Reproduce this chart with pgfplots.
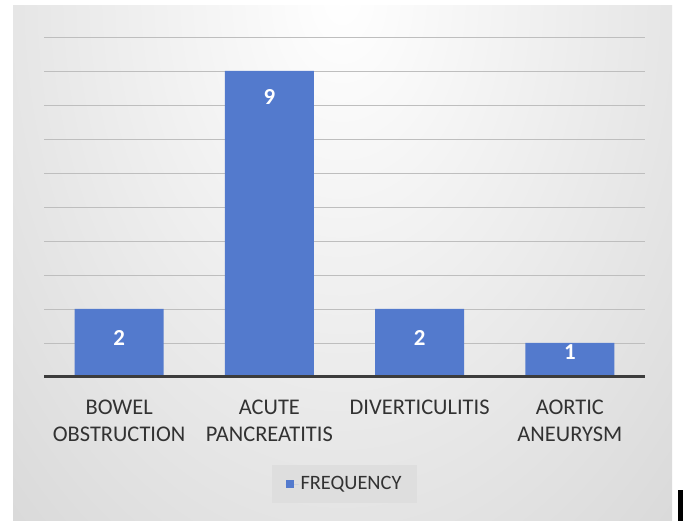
\documentclass[border=0pt]{standalone}
\usepackage{pgfplots}
\pgfplotsset{compat=1.18}
\usepackage{pgfplotstable}
\usepackage{fontspec}
\setmainfont{Carlito}
\definecolor{barblue}{RGB}{83,122,205}
\definecolor{txtgray}{RGB}{50,50,50}
\definecolor{axgray}{RGB}{60,60,60}
\definecolor{gridgray}{RGB}{190,190,190}
\definecolor{bgouter}{RGB}{198,198,198}
\definecolor{leggray}{RGB}{222,222,222}
\pgfplotstableread{
x y
0 2
1 9
2 2
3 1
}\freq
\pgfplotstableread{
x pos lab
0 1.15 2
1 8.24 9
2 1.15 2
3 0.74 1
}\labs
\begin{document}
\begin{tikzpicture}[x=1bp,y=1bp]
\fill[white] (0,0) rectangle (683,521);
\begin{scope}
\clip (13,0) rectangle (672,515);
\shade[inner color=white, outer color=bgouter] (342,525) ellipse [x radius=740, y radius=1100];
\end{scope}
\begin{axis}[
  at={(44bp,144bp)}, anchor=south west,
  scale only axis, width=601bp, height=340bp,
  xmin=-0.5, xmax=3.5, ymin=0, ymax=10,
  ytick={1,...,10}, yticklabels={},
  ymajorgrids, grid style={gridgray, line width=0.8bp},
  xtick={0,1,2,3},
  xticklabels={{BOWEL\\OBSTRUCTION},{ACUTE\\PANCREATITIS},{DIVERTICULITIS},{AORTIC\\ANEURYSM}},
  xticklabel style={align=center, text=txtgray, font=\fontsize{22.5}{28}\selectfont, yshift=-19bp},
  major tick length=0pt,
  axis line style={draw=none},
  ybar, bar width=89bp,
  legend style={at={(0.5,-0.315)}, anchor=center, fill=leggray, draw=none,
    font=\fontsize{20.5}{22}\selectfont, text=txtgray, inner xsep=14bp, inner ysep=10bp},
  legend image code/.code={\fill[barblue] (0bp,-4bp) rectangle (8bp,4bp); \path (0bp,0bp) -- (13bp,0bp);},
  clip=false,
]
\addplot[fill=barblue, draw=none, bar shift=0pt] table[x=x,y=y]{\freq};
\addlegendentry{FREQUENCY}
\addplot[only marks, mark=none, forget plot, bar shift=0pt, point meta=explicit symbolic,
  nodes near coords, nodes near coords style={anchor=center, text=white, font=\fontsize{23}{26}\selectfont\bfseries}]
  table[x=x,y=pos,meta=lab]{\labs};
\draw[line width=3bp, axgray] (axis cs:-0.5,0) -- (axis cs:3.5,0);
\end{axis}
\fill[black] (678,0) rectangle (683,31);
\end{tikzpicture}
\end{document}
